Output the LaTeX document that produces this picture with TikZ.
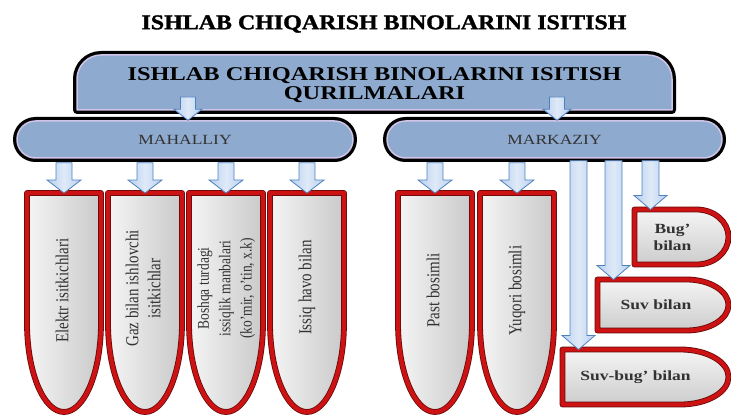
\documentclass[tikz,border=0pt]{standalone}
\usepackage{fontspec}
\usepackage{graphicx}
\setmainfont{Liberation Serif}
\newfontfamily\widerm{Liberation Serif}[FakeStretch=1.25]
\newfontfamily\heavyrm{Liberation Serif}[FakeStretch=1.14, BoldFeatures={FakeBold=1.5}]
\usetikzlibrary{calc,shapes.misc}

\definecolor{boxblue}{RGB}{143,170,207}
\definecolor{rimlav}{RGB}{208,196,232}
\definecolor{arrblue}{RGB}{184,208,240}
\definecolor{arredge}{RGB}{79,129,189}
\definecolor{bulred}{RGB}{204,18,18}
\definecolor{txtgray}{RGB}{50,50,50}

\tikzset{
  glow/.style={preaction={draw=black, line width=8pt}},
  topbox/.style={glow, fill=boxblue, draw=rimlav, line width=1.5pt},
  midbox/.style={rounded rectangle, topbox, minimum width=336pt, minimum height=37pt, inner sep=0pt,
    text=txtgray, font=\widerm\fontsize{14}{16}\selectfont},
  area/.style={inner sep=0pt, outer sep=0pt},
  bulstyle/.style={left color=gray!8, right color=gray!42, draw=bulred!50!black, double=bulred,
    double distance=4.2pt, line width=0.8pt},
  hbul/.style={bulstyle, top color=gray!8, bottom color=gray!40},
  arrstyle/.style={left color=arrblue, right color=arrblue, middle color=white!55!arrblue,
    draw=arredge, line width=0.8pt, line join=miter},
  vtext/.style={rotate=90, inner sep=0pt, text=txtgray, font=\fontsize{15}{18}\selectfont},
  htext/.style={align=center, text=txtgray, font=\widerm\bfseries\fontsize{14}{17}\selectfont}
}

% bullet shapes drawn on the anchors of a node
\newcommand\vbullet[2]{%
  \draw[bulstyle] let \p1=(#1.north west), \p2=(#1.south east) in
    (\p1) -- (\x2,\y1) -- (\x2,\y2+#2)
    arc[start angle=0, end angle=-180, x radius={(\x2-\x1)/2}, y radius=#2] -- cycle;}
\newcommand\hbullet[2]{%
  \draw[hbul] let \p1=(#1.north west), \p2=(#1.south east) in
    (\p1) -- (\x2-#2,\y1)
    arc[start angle=90, end angle=-90, x radius=#2, y radius={(\y1-\y2)/2}] -- (\x1,\y2) -- cycle;}
% block arrow down: start level from #1, tip at #2
\newcommand\barrow[2]{%
  \draw[arrstyle] let \p1=#1, \p2=#2 in
    (\x2-\shw,\y1) -- (\x2+\shw,\y1) -- (\x2+\shw,\y2+\hdl) -- (\x2+\hdw,\y2+\hdl) -- (\p2)
    -- (\x2-\hdw,\y2+\hdl) -- (\x2-\shw,\y2+\hdl) -- cycle;}
% taller lines for the upright labels
\newcommand\tall[1]{\scalebox{1}[1.22]{\begin{tabular}{@{}c@{}}#1\end{tabular}}}

\begin{document}
\begin{tikzpicture}[x=1pt, y=-1pt, line join=round]
\useasboundingbox (0,0) rectangle (731,417);
\node[font=\heavyrm\bfseries\fontsize{21}{22}\selectfont] (title) at (384,24) {ISHLAB CHIQARISH BINOLARINI ISITISH};

% top box
\node[area, minimum width=595pt, minimum height=55pt] (top) at (374.5,82.5) {};
\draw[topbox] (top.south west) -- ([yshift=-24pt]top.north west) arc[start angle=180, end angle=90, radius=24pt]
  -- ([xshift=-24pt]top.north east) arc[start angle=90, end angle=0, radius=24pt] -- (top.south east) -- cycle;
\node[align=center, font=\widerm\bfseries\fontsize{19.5}{19}\selectfont] (toptext) at ([yshift=-3pt]top) {ISHLAB CHIQARISH BINOLARINI ISITISH\\QURILMALARI};

\node[midbox] (mah) at (185,139.5) {MAHALLIY};
\node[midbox, minimum width=335pt] (mark) at (554.5,139.5) {MARKAZIY};

% children
\foreach \nm/\cx in {elektr/64, gaz/145, boshqa/226, issiq/307, past/435, yuqori/517}
  \node[area, minimum width=74pt, minimum height=219pt] (\nm) at (\cx,302.5) {};
\foreach \nm in {elektr, gaz, boshqa, issiq, past, yuqori} {\vbullet{\nm}{89pt}}
\node[area, minimum width=94pt, minimum height=55pt] (bug) at (681.5,237) {};
\node[area, minimum width=131pt, minimum height=51pt] (suv) at (663,305) {};
\node[area, minimum width=166pt, minimum height=55pt] (suvbug) at (645.5,377) {};
\hbullet{bug}{32pt}
\hbullet{suv}{42pt}
\hbullet{suvbug}{48pt}

% arrows
\def\shw{7.5pt} \def\hdw{14pt} \def\hdl{11pt}
\barrow{([yshift=13pt]top.south)}{([xshift=3pt]mah.north)}
\barrow{([yshift=13pt]top.south)}{([xshift=2.5pt]mark.north)}
\def\shw{8pt} \def\hdw{17pt} \def\hdl{13pt}
\foreach \nm in {elektr, gaz, boshqa, issiq} {\barrow{([yshift=-4pt]mah.south)}{(\nm.north)}}
\foreach \nm in {past, yuqori} {\barrow{([yshift=-4pt]mark.south)}{(\nm.north)}}
\def\shw{8.5pt} \def\hdw{16.5pt} \def\hdl{14pt}
\foreach \nm in {suvbug, suv, bug} {\barrow{([yshift=-2pt]mark.south)}{([xshift=16pt]\nm.north west)}}

% labels
\node[vtext] (elektr-t) at ([yshift=12pt]elektr) {\tall{Elektr isitkichlari}};
\node[vtext] (gaz-t) at ([yshift=14pt]gaz) {\tall{Gaz bilan ishlovchi\\isitkichlar}};
\node[vtext, font=\fontsize{13.5}{17.5}\selectfont] (boshqa-t) at ([yshift=14pt]boshqa) {\tall{Boshqa turdagi\\issiqlik manbalari\\(ko’mir, o’tin, x.k)}};
\node[vtext] (issiq-t) at ([yshift=15pt]issiq) {\tall{Issiq havo bilan}};
\node[vtext] (past-t) at ([yshift=12pt]past) {\tall{Past bosimli}};
\node[vtext] (yuqori-t) at ([yshift=12pt]yuqori) {\tall{Yuqori bosimli}};
\node[htext] (bug-t) at ([xshift=-9pt]bug) {Bug’\\bilan};
\node[htext] (suv-t) at ([xshift=-7pt]suv) {Suv bilan};
\node[htext] (suvbug-t) at ([xshift=-10pt]suvbug) {Suv-bug’ bilan};
\end{tikzpicture}
\end{document}
